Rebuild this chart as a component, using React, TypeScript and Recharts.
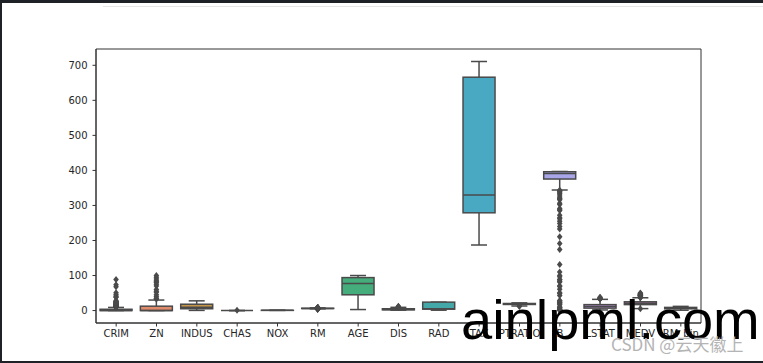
import React from 'react'
import { Bar, ComposedChart, ReferenceArea, XAxis, YAxis } from 'recharts'

const categories = ['CRIM', 'ZN', 'INDUS', 'CHAS', 'NOX', 'RM', 'AGE', 'DIS', 'RAD', 'TAX', 'PTRATIO', 'B', 'LSTAT', 'MEDV', 'RM_bin']
const whiskerLow = [0.006, 0, 0.46, 0, 0.385, 4.88, 2.9, 1.13, 1, 187, 13.0, 344.1, 1.73, 5.6, 1]
const q1 = [0.08, 0, 5.19, 0, 0.449, 5.89, 45.0, 2.1, 4, 279, 17.4, 375.4, 6.95, 17.0, 5]
const medians = [0.26, 0, 9.69, 0, 0.538, 6.21, 77.5, 3.21, 5, 330, 19.05, 391.4, 11.36, 21.2, 7]
const q3 = [3.68, 12.5, 18.1, 0, 0.624, 6.62, 94.1, 5.19, 24, 666, 20.2, 396.2, 16.96, 25.0, 9]
const whiskerHigh = [8.98, 30, 27.74, 0, 0.871, 7.69, 100, 9.22, 24, 711, 22, 396.9, 31.99, 36.5, 12]

const outliers: number[][] = [
  [9.2, 9.3, 9.9, 10.1, 10.8, 11.1, 11.6, 12.0, 12.2, 12.8, 13.5, 13.7, 14.1, 14.3, 15.0, 15.2, 15.6, 15.9, 16.8, 17.9, 18.5, 18.8, 19.6, 20.1, 20.7, 22.0, 23.6, 24.4, 24.8, 25.0, 25.9, 28.7, 37.7, 38.4, 41.5, 45.7, 51.1, 67.9, 73.5, 89.0],
  [33, 34, 35, 40, 45, 52.5, 55, 60, 70, 75, 80, 82.5, 85, 90, 95, 100],
  [],
  [1],
  [],
  [3.56, 3.86, 4.14, 4.37, 4.52, 4.63, 4.65, 7.77, 7.82, 7.85, 7.93, 8.03, 8.07, 8.25, 8.3, 8.37, 8.4, 8.7, 8.78],
  [],
  [9.99, 10.59, 10.71, 12.13],
  [],
  [],
  [12.6, 12.6],
  [0.32, 2.52, 2.6, 3.5, 3.65, 6.68, 7.68, 9.32, 10.48, 16.45, 18.82, 21.57, 22.01, 24.65, 27.25, 28.79, 43.06, 48.45, 50.92, 60.72, 68.95, 70.8, 81.33, 83.45, 88.01, 88.63, 96.73, 100.19, 109.85, 131.42, 174.5, 191.2, 210.97, 232.6, 240.16, 248.31, 255.23, 261.95, 264.76, 272.21, 285.83, 287.79, 291.55, 302.76, 306.38, 316.03, 318.43, 320.46, 324.42, 330.04, 334.4, 338.09, 339.14, 341.6, 343.28],
  [32.74, 34.02, 34.37, 34.41, 34.77, 36.98, 37.97],
  [5.0, 37.0, 37.2, 37.6, 37.9, 38.7, 39.8, 41.3, 42.3, 42.8, 43.1, 43.5, 44.0, 44.8, 45.4, 46.0, 46.7, 48.3, 48.8, 50.0],
  [],
]

const colors = ['#d9837f', '#e08c6c', '#c4964a', '#a99c3b', '#8ea33c', '#5fab4a', '#45ad7b', '#43aa95', '#43a8a7', '#4aa9c2', '#5aa3dd', '#a8a6e8', '#b992d6', '#cf87c8', '#de84a8']

const yDomain: [number, number] = [-35.5, 746.5]
const yTicks = [0, 100, 200, 300, 400, 500, 600, 700]

const rows = categories.map((name, i) => ({
  name,
  lo: whiskerLow[i],
  q1: q1[i],
  med: medians[i],
  q3: q3[i],
  hi: whiskerHigh[i],
  fliers: outliers[i],
  color: colors[i],
  span: yDomain,
}))

const LINE = '#4a4a4a'
const SPINE = '#333'

function BoxShape(props: any) {
  const { x, y, width, height, payload } = props
  const top = Math.min(y, y + height)
  const h = Math.abs(height)
  const toY = (v: number) => top + h - ((v - yDomain[0]) / (yDomain[1] - yDomain[0])) * h
  const cx = x + width / 2
  const capW = width / 4
  const boxTop = toY(payload.q3)
  const boxBot = toY(payload.q1)
  return (
    <g>
      <line x1={cx} x2={cx} y1={toY(payload.hi)} y2={boxTop} stroke={LINE} strokeWidth={1.5} />
      <line x1={cx} x2={cx} y1={boxBot} y2={toY(payload.lo)} stroke={LINE} strokeWidth={1.5} />
      <line x1={cx - capW} x2={cx + capW} y1={toY(payload.hi)} y2={toY(payload.hi)} stroke={LINE} strokeWidth={1.5} />
      <line x1={cx - capW} x2={cx + capW} y1={toY(payload.lo)} y2={toY(payload.lo)} stroke={LINE} strokeWidth={1.5} />
      <rect x={x} y={boxTop} width={width} height={Math.max(boxBot - boxTop, 0)} fill={payload.color} stroke={LINE} strokeWidth={1.5} />
      <line x1={x} x2={x + width} y1={toY(payload.med)} y2={toY(payload.med)} stroke={LINE} strokeWidth={1.5} />
      {payload.fliers.map((v: number, k: number) => {
        const py = toY(v)
        return (
          <polygon
            key={k}
            points={`${cx},${py - 3.5} ${cx + 2.8},${py} ${cx},${py + 3.5} ${cx - 2.8},${py}`}
            fill={LINE}
          />
        )
      })}
    </g>
  )
}

const tickStyle = { fill: '#262626', fontSize: 10, fontFamily: 'DejaVu Sans' }

export default function App() {
  return (
    <div style={{ position: 'fixed', left: 0, top: 0, width: 763, height: 363, background: '#fff', overflow: 'hidden' }}>
      <div style={{ position: 'absolute', left: 0, top: 0, width: 763, height: 3, background: '#1e2226' }} />
      <div style={{ position: 'absolute', left: 0, top: 0, width: 2, height: 363, background: '#1e2226' }} />
      <div style={{ position: 'absolute', left: 0, top: 361, width: 763, height: 2, background: '#1e2226' }} />
      <div style={{ position: 'absolute', left: 103, top: 6, width: 660, height: 1, background: '#e6e6e6' }} />
      <ComposedChart
        width={763}
        height={363}
        data={rows}
        margin={{ top: 49, right: 62, left: 56, bottom: 10 }}
        barCategoryGap="10%"
      >
        <XAxis
          dataKey="name"
          type="category"
          interval={0}
          tick={tickStyle}
          tickSize={3.5}
          tickMargin={3.5}
          height={30}
          axisLine={{ stroke: SPINE, strokeWidth: 1 }}
          tickLine={{ stroke: SPINE }}
        />
        <YAxis
          type="number"
          domain={yDomain}
          ticks={yTicks}
          allowDataOverflow
          width={40}
          tick={tickStyle}
          tickSize={3.5}
          tickMargin={5}
          axisLine={{ stroke: SPINE, strokeWidth: 1 }}
          tickLine={{ stroke: SPINE }}
        />
        <Bar dataKey="span" shape={BoxShape} isAnimationActive={false} />
        <ReferenceArea y1={yDomain[0]} y2={yDomain[1]} fill="none" fillOpacity={0} stroke={SPINE} strokeWidth={1} strokeOpacity={1} ifOverflow="visible" />
      </ComposedChart>
      <svg width={763} height={363} style={{ position: 'absolute', left: 0, top: 0, pointerEvents: 'none' }}>
        <text x={461} y={339} fontFamily="Liberation Sans" fontSize={56} fill="#000">ainlpml.com</text>
        <text x={611} y={351} fontFamily="Noto Sans CJK SC" fontSize={17} fill="#b4b4b4">CSDN @云天徽上</text>
      </svg>
    </div>
  )
}
